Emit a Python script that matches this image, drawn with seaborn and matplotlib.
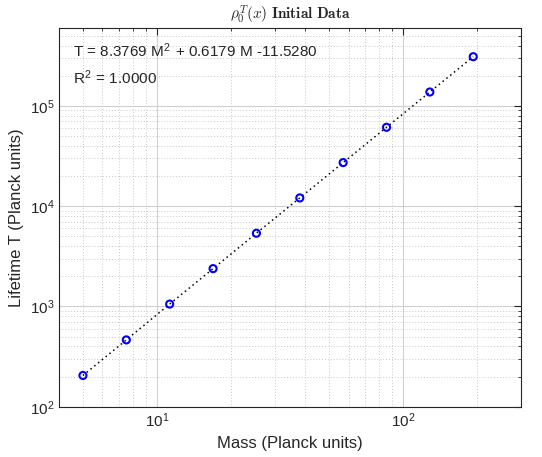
import numpy as np
import pandas as pd
import seaborn as sns
import matplotlib
matplotlib.use('Agg')
import matplotlib.pyplot as plt
from matplotlib.ticker import LogLocator, NullFormatter

# Values
mass = [5.0, 7.5, 11.25, 16.88, 25.31, 37.97, 56.95, 85.43, 128.1, 192.2]
lifetime = [205, 464, 1056, 2384, 5371, 12090, 27200, 61180, 137600, 309600]

fit_text = ('T = 8.3769 M$^{\\mathdefault{2}}$ + 0.6179 M -11.5280\n'
            'R$^{\\mathdefault{2}}$ = 1.0000')

df = pd.DataFrame({'mass': mass, 'lifetime': lifetime})

sns.set_style('white')
plt.rcParams['font.family'] = ['Liberation Sans', 'DejaVu Sans']
plt.rcParams['mathtext.fontset'] = 'cm'

fig, ax = plt.subplots(figsize=(5.42, 4.57), dpi=100)

sns.lineplot(data=df, x='mass', y='lifetime', color='black', linestyle=(0, (1, 2.2)),
             linewidth=1.1, ax=ax)
sns.scatterplot(data=df, x='mass', y='lifetime', marker='o', s=26, facecolor='none',
                edgecolor='blue', linewidth=1.5, ax=ax, zorder=3)

ax.set_xscale('log')
ax.set_yscale('log')
ax.set_xlim(4, 300)
ax.set_ylim(100, 6e5)

ax.xaxis.set_minor_locator(LogLocator(base=10, subs=np.arange(2, 10)))
ax.yaxis.set_minor_locator(LogLocator(base=10, subs=np.arange(2, 10)))
ax.xaxis.set_minor_formatter(NullFormatter())
ax.yaxis.set_minor_formatter(NullFormatter())

ax.grid(True, which='major', color='#d0d0d0', linewidth=0.8)
ax.grid(True, which='minor', color='#c8c8c8', linestyle=(0, (1, 2)), linewidth=0.7)
ax.set_axisbelow(True)

for s in ax.spines.values():
    s.set_visible(True)
    s.set_color('#262626')
    s.set_linewidth(0.8)

ax.tick_params(which='both', direction='in', top=True, right=True, colors='#262626',
               labelsize=11)
ax.tick_params(which='major', length=5)
ax.tick_params(which='minor', length=2.5)

ax.set_xlabel('Mass (Planck units)', fontsize=12, color='#262626')
ax.set_ylabel('Lifetime T (Planck units)', fontsize=12, color='#262626')
ax.set_title(r'$\rho_0^T(x)$ $\mathbf{Initial\ Data}$', fontsize=11, pad=6)

ax.text(0.03, 0.965, fit_text, transform=ax.transAxes, va='top', ha='left',
        fontsize=11, linespacing=1.5)

plt.subplots_adjust(left=0.109, right=0.961, top=0.939, bottom=0.11)
plt.savefig('out.png', dpi=100)
